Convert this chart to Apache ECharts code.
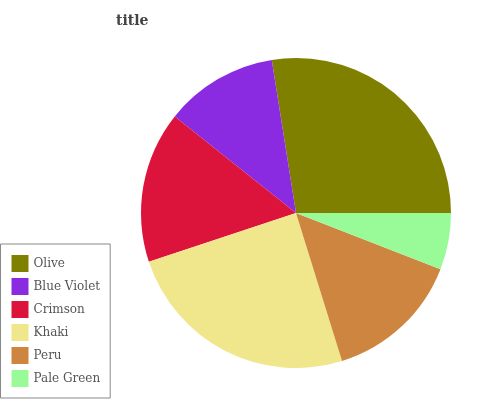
<!DOCTYPE html>
<html>
<head>
<meta charset="utf-8">
<script src="https://cdn.jsdelivr.net/npm/echarts@6/dist/echarts.min.js"></script>
<style>
  html, body { margin: 0; padding: 0; background: #fff; }
  #app { width: 490px; height: 400px; }
</style>
</head>
<body>
<div id="app"></div>
<script>
const categories = ['Olive', 'Blue Violet', 'Crimson', 'Khaki', 'Peru', 'Pale Green'];
const values = [27.5, 11.8, 15.8, 24.7, 14.3, 5.9];
const colors = ['#808000', '#8a2be2', '#dc143c', '#f0e68c', '#cd853f', '#98fb98'];

const chart = echarts.init(document.getElementById('app'));
chart.setOption({
  animation: false,
  color: colors,
  title: {
    text: 'title',
    left: 111,
    top: 9,
    textStyle: { fontFamily: 'DejaVu Serif', fontSize: 14, fontWeight: 'bold', color: '#444' }
  },
  legend: {
    orient: 'vertical',
    left: 0.5,
    top: 244,
    data: categories,
    itemWidth: 17,
    itemHeight: 17,
    itemGap: 6,
    padding: [11, 10, 11, 11],
    borderColor: '#888',
    borderWidth: 1,
    icon: 'rect',
    textStyle: { fontFamily: 'DejaVu Serif', fontSize: 12, color: '#555' }
  },
  series: [{
    type: 'pie',
    center: [296, 213],
    radius: 155,
    startAngle: 0,
    clockwise: false,
    label: { show: false },
    labelLine: { show: false },
    itemStyle: { borderWidth: 0 },
    data: categories.map((name, i) => ({ name, value: values[i] }))
  }]
});
</script>
</body>
</html>
